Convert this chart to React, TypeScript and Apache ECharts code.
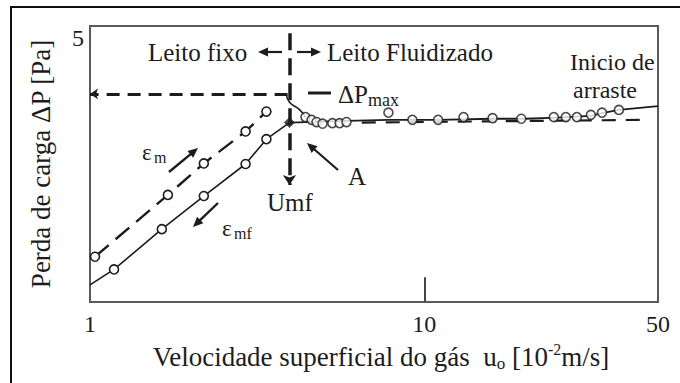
import React, { useEffect, useRef } from "react";
import * as echarts from "echarts";

// ---- data ----
const X_TICK_LABELS = [1, 10, 50];
const Y_TICK_LABELS = [5];

// fixed bed, decreasing velocity (solid, eps_mf)
const fixedSolidU = [1.0, 1.18, 1.64, 2.19, 2.92, 3.37, 3.95];
const fixedSolidDP = [0.31, 0.59, 1.32, 1.92, 2.5, 2.95, 3.25];
const fixedSolidHasCircle = [false, true, true, true, true, true, false];

// fixed bed, increasing velocity (dashed, eps_m)
const fixedDashedU = [1.035, 1.71, 2.19, 2.92, 3.37];
const fixedDashedDP = [0.82, 1.94, 2.51, 3.09, 3.45];

// overshoot after the peak
const peakU = [3.87, 3.95, 4.24, 4.41];
const peakDP = [3.75, 3.62, 3.48, 3.35];

// fluidized-bed measured points (circles)
const fluidU = [4.41, 4.6, 4.76, 4.96, 5.31, 5.58, 5.85, 7.81, 9.21, 11.0, 13.1, 16.0, 19.5, 24.4, 26.5, 28.6, 31.5, 34.0, 38.2];
const fluidDP = [3.35, 3.3, 3.26, 3.23, 3.24, 3.24, 3.26, 3.43, 3.3, 3.3, 3.35, 3.33, 3.32, 3.35, 3.35, 3.35, 3.39, 3.43, 3.48];

// fluidized-bed trend line (solid)
const plateauU = [3.95, 5.85, 7.8, 11, 16, 20, 25, 31.5, 34, 38.2, 50];
const plateauDP = [3.25, 3.28, 3.3, 3.3, 3.32, 3.32, 3.34, 3.37, 3.42, 3.48, 3.55];

// fluidized-bed trend line (dashed)
const plateauDashedU = [6.5, 45.4];
const plateauDashedDP = [3.25, 3.3];

const U_MF = 3.95;
const DP_AT_UMF = 3.25;
const DP_MAX = 3.77;
const DP_MAX_LINE_END_U = 3.9;
const UMF_LINE_TOP = 4.87;
const UMF_LINE_BOTTOM = 2.12;
const X_TICK_MARK_U = 10;
const X_TICK_MARK_TOP = 0.45;

const FONT = "Liberation Serif";
const INK = "#1c1c1c";

function arrow(x0: number, y0: number, x1: number, y1: number, lw = 2, head = 10, hw = 4.5) {
  const dx = x1 - x0, dy = y1 - y0;
  const L = Math.sqrt(dx * dx + dy * dy);
  const ux = dx / L, uy = dy / L;
  const nx = -uy, ny = ux;
  const bx = x1 - ux * head, by = y1 - uy * head;
  return [
    { type: "line", z: 100, shape: { x1: x0, y1: y0, x2: bx + ux * 2, y2: by + uy * 2 }, style: { stroke: INK, lineWidth: lw } },
    {
      type: "polygon", z: 100,
      shape: { points: [[x1, y1], [bx + nx * hw, by + ny * hw], [bx - nx * hw, by - ny * hw]] },
      style: { fill: INK },
    },
  ];
}

function txt(text: string, x: number, y: number, size: number, align = "left") {
  return {
    type: "text", z: 100, x, y,
    style: { text, fontSize: size, fontFamily: FONT, fill: INK, align, verticalAlign: "middle" },
  };
}

export default function App() {
  const ref = useRef<HTMLDivElement>(null);
  useEffect(() => {
    if (!ref.current) return;
    const chart = echarts.init(ref.current, null, { renderer: "svg" });
    const circle = { symbol: "circle", symbolSize: 9, itemStyle: { color: "#fff", borderColor: INK, borderWidth: 1.6 } };

    const option: any = {
      animation: false,
      backgroundColor: "#fff",
      textStyle: { fontFamily: FONT },
      grid: { left: 90, right: 22, top: 26, bottom: 81, show: true, borderColor: "#5a5a5a", borderWidth: 2 },
      xAxis: {
        type: "log", logBase: 10, min: 1, max: 50,
        splitLine: { show: false }, axisTick: { show: false }, minorTick: { show: false },
        axisLine: { lineStyle: { color: "#5a5a5a", width: 2 } },
        axisLabel: {
          fontFamily: FONT, fontSize: 24, color: INK, margin: 10, showMaxLabel: true, showMinLabel: true,
          formatter: (v: number) => {
            const hit = X_TICK_LABELS.find((t) => Math.abs(t - v) < 1e-6 * t);
            return hit !== undefined ? String(hit) : "";
          },
        },
        name: "{t|Velocidade superficial do gás  u}{s|o}{t| [10}{p|-2}{t|m/s]}",
        nameLocation: "middle", nameGap: 39,
        nameTextStyle: {
          padding: [0, 0, 0, 14],
          rich: {
            t: { fontFamily: FONT, fontSize: 27, color: INK, lineHeight: 31, verticalAlign: "middle" },
            s: { fontFamily: FONT, fontSize: 17, color: INK, lineHeight: 31, verticalAlign: "bottom" },
            p: { fontFamily: FONT, fontSize: 16, color: INK, lineHeight: 31, verticalAlign: "top" },
          },
        },
      },
      yAxis: {
        type: "value", min: 0, max: 5, interval: 5,
        splitLine: { show: false }, axisTick: { show: false },
        axisLine: { lineStyle: { color: "#5a5a5a", width: 2 } },
        axisLabel: {
          fontFamily: FONT, fontSize: 24, color: INK, margin: 6, verticalAlign: "top",
          formatter: (v: number) => (Y_TICK_LABELS.includes(v) ? String(v) : ""),
        },
        name: "Perda de carga ΔP [Pa]",
        nameLocation: "middle", nameGap: 36,
        nameTextStyle: { fontFamily: FONT, fontSize: 27, color: INK },
      },
      series: [
        {
          type: "line", name: "fixedSolid",
          data: fixedSolidU.map((u, i) => ({ value: [u, fixedSolidDP[i]], symbol: fixedSolidHasCircle[i] ? "circle" : "none" })),
          ...circle, showSymbol: true,
          lineStyle: { color: INK, width: 1.6 },
          markLine: {
            silent: true, symbol: "none", label: { show: false },
            lineStyle: { color: "#444", width: 2, type: "solid" },
            data: [[{ coord: [X_TICK_MARK_U, 0] }, { coord: [X_TICK_MARK_U, X_TICK_MARK_TOP] }]],
          },
        },
        {
          type: "line", name: "fixedDashed",
          data: fixedDashedU.map((u, i) => [u, fixedDashedDP[i]]),
          ...circle, showSymbol: true,
          lineStyle: { color: INK, width: 2.4, type: [18, 9] },
          markLine: {
            silent: true, label: { show: false }, symbol: ["none", "arrow"], symbolSize: 10,
            lineStyle: { color: INK, width: 3.5, type: [17, 8] },
            data: [
              [{ coord: [U_MF, UMF_LINE_TOP] }, { coord: [U_MF, UMF_LINE_BOTTOM] }],
            ],
          },
        },
        {
          type: "line", name: "peak",
          data: peakU.map((u, i) => [u, peakDP[i]]),
          symbol: "none", smooth: true,
          lineStyle: { color: INK, width: 1.6 },
          markLine: {
            silent: true, label: { show: false }, symbol: ["none", "arrow"], symbolSize: 8,
            lineStyle: { color: INK, width: 3, type: [13, 8] },
            data: [[{ coord: [DP_MAX_LINE_END_U, DP_MAX] }, { coord: [1, DP_MAX] }]],
          },
        },
        {
          type: "line", name: "plateauDashed",
          data: plateauDashedU.map((u, i) => [u, plateauDashedDP[i]]),
          symbol: "none",
          lineStyle: { color: INK, width: 2.2, type: [14, 10] },
        },
        {
          type: "line", name: "plateau",
          data: plateauU.map((u, i) => [u, plateauDP[i]]),
          symbol: "none",
          lineStyle: { color: INK, width: 1.8 },
        },
        {
          type: "scatter", name: "fluid",
          data: fluidU.map((u, i) => [u, fluidDP[i]]),
          ...circle, z: 5,
        },
        {
          type: "scatter", name: "umf",
          data: [[U_MF, DP_AT_UMF]],
          symbol: "diamond", symbolSize: 11, itemStyle: { color: INK }, z: 6,
        },
      ],
      graphic: [
        { type: "rect", z: 0, shape: { x: 11, y: 7, width: 700, height: 400 }, style: { fill: "none", stroke: "#111", lineWidth: 2 } },
        txt("Leito fixo", 148, 52, 25),
        ...arrow(282, 52, 258, 52, 2.2),
        ...arrow(297, 52, 321, 52, 2.2),
        txt("Leito Fluidizado", 327, 52, 25),
        { type: "line", z: 100, shape: { x1: 308, y1: 93, x2: 331, y2: 93 }, style: { stroke: INK, lineWidth: 3 } },
        txt("ΔP", 338, 94, 25),
        txt("max", 368, 100, 18),
        txt("Inicio de", 570, 62, 24),
        txt("arraste", 573, 90, 24),
        txt("ε", 142, 152, 23),
        txt("m", 154, 157, 16),
        ...arrow(169, 172, 198, 148, 2.4),
        txt("ε", 222, 228, 23),
        txt("mf", 234, 233, 16),
        ...arrow(218, 203, 193, 227, 2.4),
        txt("Umf", 267, 202, 25),
        txt("A", 357, 176, 25, "center"),
        ...arrow(338, 170, 307, 143, 2.2),
      ],
    };
    chart.setOption(option);
    return () => chart.dispose();
  }, []);
  return <div ref={ref} style={{ position: "fixed", left: 0, top: 0, width: 680, height: 383, background: "#fff" }} />;
}
